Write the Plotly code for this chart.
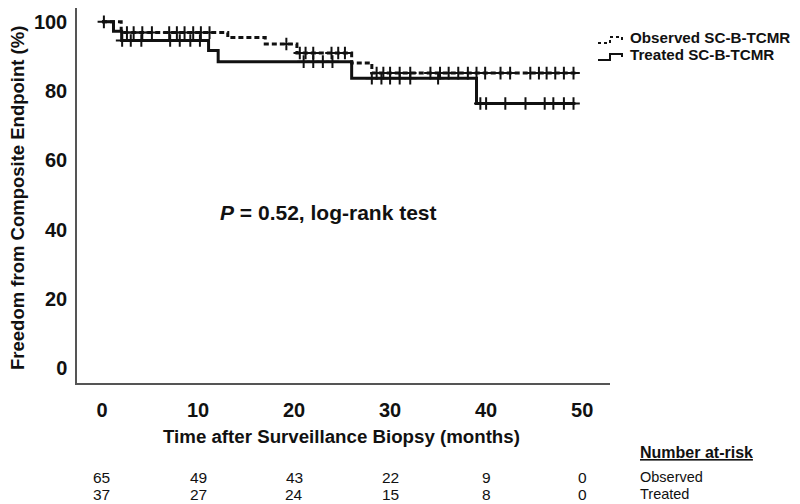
import numpy as np
import plotly.graph_objects as go

# ---- data ----
tick_months = [0, 10, 20, 30, 40, 50]
yticks = [0, 20, 40, 60, 80, 100]
at_risk_observed = [65, 49, 43, 22, 9, 0]
at_risk_treated = [37, 27, 24, 15, 8, 0]

obs_time = [0, 2.0, 13.1, 17.0, 20.3, 26.0, 28.1, 49.3]
obs_surv = [100, 96.9, 95.5, 93.6, 91.0, 88.1, 85.2, 85.2]
trt_time = [0, 1.2, 2.05, 11.1, 12.1, 26.0, 39.0, 49.3]
trt_surv = [100, 97.3, 94.6, 91.7, 88.5, 83.7, 76.4, 76.4]

obs_censor = [2.6, 3.3, 4.2, 5.2, 7.0, 7.8, 8.6, 9.5, 10.3, 11.2, 19.2, 20.6,
              21.2, 22.0, 23.9, 24.6, 25.3, 28.6, 29.3, 30.0, 31.0, 32.1, 34.2,
              35.2, 36.1, 37.1, 38.1, 39.0, 39.9, 41.5, 42.5, 44.6, 45.5, 46.3,
              47.2, 48.1, 49.1]
trt_censor = [0.2, 2.1, 3.0, 4.1, 7.1, 8.1, 9.2, 10.2, 21.0, 22.0, 23.0, 24.0,
              28.1, 29.1, 30.0, 31.0, 32.1, 35.0, 39.4, 40.0, 42.0, 44.1, 46.1,
              47.0, 48.1, 49.1]


def surv_at(times, surv, t):
    idx = np.searchsorted(np.array(times), np.array(t), side="right") - 1
    return list(np.array(surv)[idx])


FONT = "Liberation Sans, Arial, sans-serif"
INK = "#111111"

# page body adds an 8px offset; build the figure 8px smaller and shift
OFF = 8
W, H = 800 - OFF, 504 - OFF
L, T = 77 - OFF, 0
PW = 533
PH = 383 - OFF
R = W - L - PW
B = H - T - PH


def px(x):  # screen x -> paper
    return (x - OFF - L) / PW


def py(y):  # screen y -> paper
    return (T + PH - (y - OFF)) / PH


fig = go.Figure()

fig.add_trace(go.Scatter(x=obs_time, y=obs_surv, mode="lines", line_shape="hv",
                         line=dict(color=INK, width=3, dash="5px,3px"),
                         showlegend=False))
fig.add_trace(go.Scatter(x=trt_time, y=trt_surv, mode="lines", line_shape="hv",
                         line=dict(color=INK, width=3), showlegend=False))
fig.add_trace(go.Scatter(x=obs_censor, y=surv_at(obs_time, obs_surv, obs_censor),
                         mode="markers",
                         marker=dict(symbol="cross-thin", size=9,
                                     line=dict(color=INK, width=2)),
                         showlegend=False))
fig.add_trace(go.Scatter(x=trt_censor, y=surv_at(trt_time, trt_surv, trt_censor),
                         mode="markers",
                         marker=dict(symbol="cross-thin", size=9,
                                     line=dict(color=INK, width=2)),
                         showlegend=False))

annotations = []
annotations.append(dict(xref="paper", yref="paper", x=px(218), y=py(212),
                        xanchor="left", yanchor="middle", showarrow=False,
                        text="<b><i>P</i> = 0.52, log-rank test</b>",
                        font=dict(family=FONT, size=21, color=INK)))
annotations.append(dict(xref="paper", yref="paper", x=px(341), y=py(437),
                        xanchor="center", yanchor="middle", showarrow=False,
                        text="<b>Time after Surveillance Biopsy (months)</b>",
                        font=dict(family=FONT, size=18.7, color=INK)))
annotations.append(dict(xref="paper", yref="paper", x=px(18), y=py(198),
                        xanchor="center", yanchor="middle", showarrow=False,
                        textangle=-90,
                        text="<b>Freedom from Composite Endpoint (%)</b>",
                        font=dict(family=FONT, size=18.5, color=INK)))
annotations.append(dict(xref="paper", yref="paper", x=px(628), y=py(38),
                        xanchor="left", yanchor="middle", showarrow=False,
                        text="<b>Observed SC-B-TCMR</b>",
                        font=dict(family=FONT, size=15.2, color=INK)))
annotations.append(dict(xref="paper", yref="paper", x=px(628), y=py(55),
                        xanchor="left", yanchor="middle", showarrow=False,
                        text="<b>Treated SC-B-TCMR</b>",
                        font=dict(family=FONT, size=15.2, color=INK)))
annotations.append(dict(xref="paper", yref="paper", x=px(638), y=py(452),
                        xanchor="left", yanchor="middle", showarrow=False,
                        text="<b><span style='text-decoration:underline'>Number at-risk</span></b>",
                        font=dict(family=FONT, size=16, color=INK)))
annotations.append(dict(xref="paper", yref="paper", x=px(638), y=py(477),
                        xanchor="left", yanchor="middle", showarrow=False,
                        text="Observed", font=dict(family=FONT, size=14.5, color=INK)))
annotations.append(dict(xref="paper", yref="paper", x=px(638), y=py(494),
                        xanchor="left", yanchor="middle", showarrow=False,
                        text="Treated", font=dict(family=FONT, size=14.5, color=INK)))
for m, o, t in zip(tick_months, at_risk_observed, at_risk_treated):
    annotations.append(dict(xref="x", yref="paper", x=m, y=py(477),
                            xanchor="center", yanchor="middle", showarrow=False,
                            text=str(o), font=dict(family=FONT, size=15.5, color=INK)))
    annotations.append(dict(xref="x", yref="paper", x=m, y=py(494),
                            xanchor="center", yanchor="middle", showarrow=False,
                            text=str(t), font=dict(family=FONT, size=15.5, color=INK)))


def glyph(y0, dash):
    path = (f"M {px(598)},{py(y0 + 4)} L {px(610)},{py(y0 + 4)} "
            f"L {px(610)},{py(y0 - 2)} L {px(622)},{py(y0 - 2)} L {px(622)},{py(y0 + 1)}")
    return dict(type="path", xref="paper", yref="paper", path=path,
                line=dict(color=INK, width=2, dash=dash))


shapes = [glyph(39, "dot"), glyph(56, "solid")]

fig.update_layout(
    width=W, height=H,
    margin=dict(l=L, r=R, t=T, b=B),
    paper_bgcolor="white", plot_bgcolor="white",
    font=dict(family=FONT, color=INK),
    annotations=annotations,
    shapes=shapes,
    showlegend=False,
    xaxis=dict(range=[-2.6, 52.9], tickvals=tick_months,
               ticktext=[f"<b>{v}</b>" for v in tick_months],
               showgrid=False, zeroline=False, showline=True,
               linecolor="#555555", linewidth=1.5, ticks="",
               ticklabelstandoff=8,
               tickfont=dict(family=FONT, size=20, color=INK)),
    yaxis=dict(range=[-4.3, 104.0], tickvals=yticks,
               ticktext=[f"<b>{v}</b>" for v in yticks],
               showgrid=False, zeroline=False, showline=True,
               linecolor="#555555", linewidth=1.5, ticks="",
               ticklabelstandoff=4,
               tickfont=dict(family=FONT, size=20, color=INK)),
)

fig.write_html("out.html")
